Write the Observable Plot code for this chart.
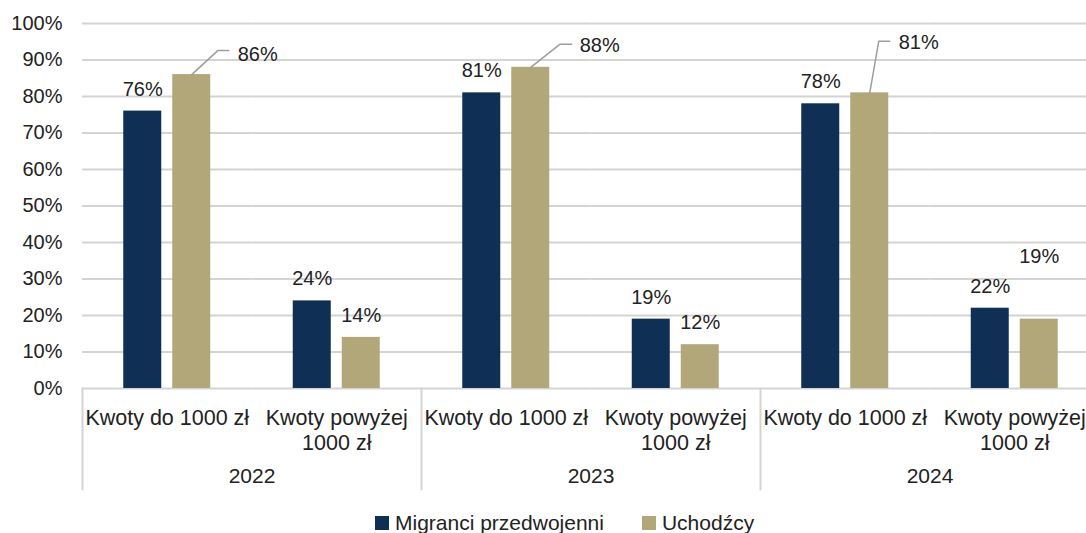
<!DOCTYPE html>
<html>
<head>
<meta charset="utf-8">
<script src="https://cdn.jsdelivr.net/npm/d3@7"></script>
<script src="https://cdn.jsdelivr.net/npm/@observablehq/plot@0.6"></script>
<style>
  body { margin: 0; background: #fff; font-family: "Liberation Sans", Arial, sans-serif; }
  #legend { display: flex; align-items: center; height: 24px; margin-top: 11px; margin-left: 375px; font-size: 21px; color: #222; }
  #legend .item { display: flex; align-items: center; margin-right: 38px; white-space: nowrap; }
  #legend .sw { display: inline-block; width: 14px; height: 14px; margin-right: 6px; }
</style>
</head>
<body>
<div id="chart"></div>
<script>
// ---- data ----
const years = ["2022", "2023", "2024"];
const amounts = ["Kwoty do 1000 zł", "Kwoty powyżej\n1000 zł"];
const series = ["Migranci przedwojenni", "Uchodźcy"];
const migranci = [76, 24, 81, 19, 78, 22];
const uchodzcy = [86, 14, 88, 12, 81, 19];
const yTicks = [0, 10, 20, 30, 40, 50, 60, 70, 80, 90, 100];

// ---- styling ----
const colors = ["#102F55", "#B2A779"];
const textColor = "#222";
const gridColor = "#d4d4d4";

// table
const rows = [];
years.forEach((yr, i) => amounts.forEach((a, j) => {
  const k = i * amounts.length + j;
  const key = yr + "|" + a;
  rows.push({year: yr, amount: a, key, series: series[0], value: migranci[k]});
  rows.push({year: yr, amount: a, key, series: series[1], value: uchodzcy[k]});
}));
const subgroups = Array.from(new Set(rows.map(d => d.key))).map(key => {
  const r = rows.find(d => d.key === key);
  return {key, year: r.year, amount: r.amount};
});
const yearStarts = subgroups.filter(d => d.amount === amounts[0]);

// label placement (pixel offsets) for the callouts
const callouts = [
  {key: "2022|" + amounts[0], series: series[1], elbow: [26, -24], end: 37, dx: 46, dy: -20.5},
  {key: "2023|" + amounts[0], series: series[1], elbow: [29, -23], end: 41, dx: 49, dy: -22},
  {key: "2024|" + amounts[0], series: series[1], elbow: [9, -51.5], end: 20, dx: 29, dy: -50.5}
];
const raised = [{key: "2024|" + amounts[1], series: series[1], dy: -62.5}];
const isSpecial = d => callouts.concat(raised).some(c => c.key === d.key && c.series === d.series);
const pick = c => rows.filter(d => d.key === c.key && d.series === c.series);

const marks = [
  Plot.gridY({ticks: yTicks, stroke: gridColor, strokeOpacity: 1, strokeWidth: 2}),
  Plot.axisY({ticks: yTicks, tickSize: 0, tickPadding: 20, tickFormat: d => d + "%", fill: textColor, label: null}),
  Plot.barY(rows, {fx: "key", x: "series", y: "value", fill: "series"}),
  Plot.text(rows.filter(d => !isSpecial(d)), {fx: "key", x: "series", y: "value", text: d => d.value + "%", dy: -22, lineAnchor: "middle", fill: textColor}),
  // subcategory labels
  Plot.text(subgroups, {fx: "key", text: "amount", frameAnchor: "bottom", lineAnchor: "top", dy: 19, lineHeight: 1.15, fontSize: 21.5, fill: textColor}),
  // year labels
  Plot.text(yearStarts, {fx: "key", text: "year", frameAnchor: "bottom-right", textAnchor: "middle", lineAnchor: "top", dy: 80, fontSize: 21, fill: textColor}),
  // separators
  Plot.vector(yearStarts, {fx: "key", frameAnchor: "bottom-left", anchor: "start", length: 101, stroke: gridColor, strokeWidth: 2,
    shape: {draw(ctx, l) { ctx.moveTo(0, 0); ctx.lineTo(0, l); }}})
];
callouts.forEach(c => {
  marks.push(Plot.vector(pick(c), {fx: "key", x: "series", y: "value", anchor: "start", length: 1, stroke: "#9e9e9e", strokeWidth: 1.5,
    shape: {draw(ctx) { ctx.moveTo(0, 0); ctx.lineTo(c.elbow[0], c.elbow[1]); ctx.lineTo(c.end, c.elbow[1]); }}}));
  marks.push(Plot.text(pick(c), {fx: "key", x: "series", y: "value", text: d => d.value + "%", dx: c.dx, dy: c.dy, textAnchor: "start", lineAnchor: "middle", fill: textColor}));
});
raised.forEach(c => {
  marks.push(Plot.text(pick(c), {fx: "key", x: "series", y: "value", text: d => d.value + "%", dy: c.dy, lineAnchor: "middle", fill: textColor}));
});

const chart = Plot.plot({
  width: 1086,
  height: 500,
  marginLeft: 82,
  marginRight: -13,
  marginTop: 23,
  marginBottom: 112,
  style: {fontSize: "20px", fontFamily: "'Liberation Sans', Arial, sans-serif", color: textColor, background: "#fff", overflow: "visible"},
  fx: {domain: subgroups.map(d => d.key), padding: 0, round: false, axis: null, label: null},
  x: {domain: series, paddingInner: 0.2245, paddingOuter: 0.842, round: false, axis: null, label: null},
  y: {domain: [0, 100], axis: null, label: null},
  color: {domain: series, range: colors},
  marks
});
document.getElementById("chart").appendChild(chart);

// legend
const legend = document.createElement("div");
legend.id = "legend";
series.forEach((s, i) => {
  const item = document.createElement("span");
  item.className = "item";
  const sw = document.createElement("span");
  sw.className = "sw";
  sw.style.background = colors[i];
  item.appendChild(sw);
  item.appendChild(document.createTextNode(s));
  legend.appendChild(item);
});
document.body.appendChild(legend);
</script>
</body>
</html>
